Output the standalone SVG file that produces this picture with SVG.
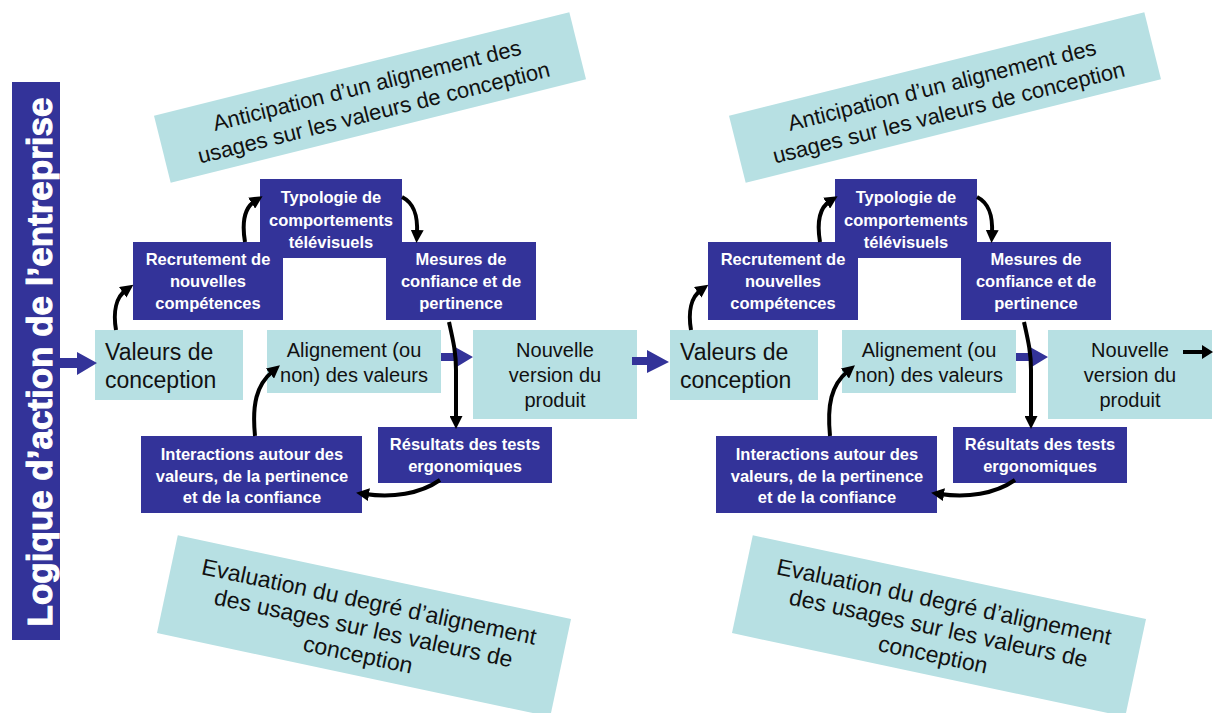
<svg xmlns="http://www.w3.org/2000/svg" width="1214" height="713" viewBox="0 0 1214 713">
<defs>
<style>
.dk{fill:#333399}
.lt{fill:#b7e0e3}
.wt{font-family:"Liberation Sans",Arial,sans-serif;font-weight:bold;font-size:16.5px;fill:#ffffff;text-anchor:middle}
.bt{font-family:"Liberation Sans",Arial,sans-serif;font-size:20px;fill:#111111;text-anchor:middle}
.vt{font-family:"Liberation Sans",Arial,sans-serif;font-size:23px;fill:#111111}
.tt{font-family:"Liberation Sans",Arial,sans-serif;font-size:22px;fill:#111111;text-anchor:middle}
.et{font-family:"Liberation Sans",Arial,sans-serif;font-size:23px;fill:#111111;text-anchor:middle}
.bar{font-family:"Liberation Sans",Arial,sans-serif;font-weight:bold;font-size:35px;fill:#ffffff;stroke:#ffffff;stroke-width:1;text-anchor:middle}
.cv{fill:none;stroke:#000;stroke-width:4;marker-end:url(#ah)}
.ba{fill:#333399}
</style>
<marker id="ah" markerUnits="userSpaceOnUse" markerWidth="13" markerHeight="13" viewBox="0 0 13 13" refX="4" refY="6.5" orient="auto">
<path d="M0,0 L13,6.5 L0,13 Z" fill="#000"/>
</marker>
</defs>
<rect x="0" y="0" width="1214" height="713" fill="#ffffff"/>

<g id="actor-bar">
<rect class="dk" x="12" y="82" width="48" height="558"/>
<text class="bar" transform="translate(52,362) rotate(-90)">Logique d’action de l’entreprise</text>
</g>

<!-- LEFT HALF -->
<g id="anticipation-1" transform="translate(370,97.5) rotate(-14)">
<rect class="lt" x="-214" y="-34.5" width="428" height="69"/>
<text class="tt" x="0" y="-5">Anticipation d’un alignement des</text>
<text class="tt" x="0" y="23">usages sur les valeurs de conception</text>
</g>
<g id="evaluation-1" transform="translate(364,626) rotate(12)">
<rect class="lt" x="-201" y="-50" width="402" height="100"/>
<text class="et" x="0" y="-17">Evaluation du degré d’alignement</text>
<text class="et" x="0" y="10">des usages sur les valeurs de</text>
<text class="et" x="0" y="37">conception</text>
</g>
<g id="typologie-1">
<rect class="dk" x="260" y="179" width="142" height="79"/>
<text class="wt" x="331" y="203">Typologie de</text>
<text class="wt" x="331" y="226">comportements</text>
<text class="wt" x="331" y="248">télévisuels</text>
</g>
<g id="recrutement-1">
<rect class="dk" x="133" y="242" width="150" height="78"/>
<text class="wt" x="208" y="265">Recrutement de</text>
<text class="wt" x="208" y="287">nouvelles</text>
<text class="wt" x="208" y="309">compétences</text>
</g>
<g id="mesures-1">
<rect class="dk" x="386" y="242" width="150" height="78"/>
<text class="wt" x="461" y="265">Mesures de</text>
<text class="wt" x="461" y="287">confiance et de</text>
<text class="wt" x="461" y="309">pertinence</text>
</g>
<g id="valeurs-1">
<rect class="lt" x="95" y="330" width="148" height="70"/>
<text class="vt" x="105" y="360">Valeurs de</text>
<text class="vt" x="105" y="388">conception</text>
</g>
<g id="alignement-1">
<rect class="lt" x="267" y="330" width="174" height="63"/>
<text class="bt" x="354" y="357">Alignement (ou</text>
<text class="bt" x="354" y="382">non) des valeurs</text>
</g>
<g id="nouvelle-1">
<rect class="lt" x="473" y="330" width="164" height="89"/>
<text class="bt" x="555" y="357">Nouvelle</text>
<text class="bt" x="555" y="382">version du</text>
<text class="bt" x="555" y="407">produit</text>
</g>
<g id="resultats-1">
<rect class="dk" x="378" y="427" width="174" height="56"/>
<text class="wt" x="465" y="450">Résultats des tests</text>
<text class="wt" x="465" y="472">ergonomiques</text>
</g>
<g id="interactions-1">
<rect class="dk" x="141" y="436" width="221" height="77"/>
<text class="wt" x="252" y="460">Interactions autour des</text>
<text class="wt" x="252" y="482">valeurs, de la pertinence</text>
<text class="wt" x="252" y="503">et de la confiance</text>
</g>

<!-- RIGHT HALF -->
<g id="anticipation-2" transform="translate(945,97.5) rotate(-14)">
<rect class="lt" x="-214" y="-34.5" width="428" height="69"/>
<text class="tt" x="0" y="-5">Anticipation d’un alignement des</text>
<text class="tt" x="0" y="23">usages sur les valeurs de conception</text>
</g>
<g id="evaluation-2" transform="translate(939,626) rotate(12)">
<rect class="lt" x="-201" y="-50" width="402" height="100"/>
<text class="et" x="0" y="-17">Evaluation du degré d’alignement</text>
<text class="et" x="0" y="10">des usages sur les valeurs de</text>
<text class="et" x="0" y="37">conception</text>
</g>
<g id="typologie-2">
<rect class="dk" x="835" y="179" width="142" height="79"/>
<text class="wt" x="906" y="203">Typologie de</text>
<text class="wt" x="906" y="226">comportements</text>
<text class="wt" x="906" y="248">télévisuels</text>
</g>
<g id="recrutement-2">
<rect class="dk" x="708" y="242" width="150" height="78"/>
<text class="wt" x="783" y="265">Recrutement de</text>
<text class="wt" x="783" y="287">nouvelles</text>
<text class="wt" x="783" y="309">compétences</text>
</g>
<g id="mesures-2">
<rect class="dk" x="961" y="242" width="150" height="78"/>
<text class="wt" x="1036" y="265">Mesures de</text>
<text class="wt" x="1036" y="287">confiance et de</text>
<text class="wt" x="1036" y="309">pertinence</text>
</g>
<g id="valeurs-2">
<rect class="lt" x="670" y="330" width="148" height="70"/>
<text class="vt" x="680" y="360">Valeurs de</text>
<text class="vt" x="680" y="388">conception</text>
</g>
<g id="alignement-2">
<rect class="lt" x="842" y="330" width="174" height="63"/>
<text class="bt" x="929" y="357">Alignement (ou</text>
<text class="bt" x="929" y="382">non) des valeurs</text>
</g>
<g id="nouvelle-2">
<rect class="lt" x="1048" y="330" width="164" height="89"/>
<text class="bt" x="1130" y="357">Nouvelle</text>
<text class="bt" x="1130" y="382">version du</text>
<text class="bt" x="1130" y="407">produit</text>
</g>
<g id="resultats-2">
<rect class="dk" x="953" y="427" width="174" height="56"/>
<text class="wt" x="1040" y="450">Résultats des tests</text>
<text class="wt" x="1040" y="472">ergonomiques</text>
</g>
<g id="interactions-2">
<rect class="dk" x="716" y="436" width="221" height="77"/>
<text class="wt" x="827" y="460">Interactions autour des</text>
<text class="wt" x="827" y="482">valeurs, de la pertinence</text>
<text class="wt" x="827" y="503">et de la confiance</text>
</g>

<g id="connectors">
<path class="ba" d="M60,358 L77,358 L77,352 L97,363 L77,375 L77,368 L60,368 Z"/>
<path class="ba" d="M441,353 L455,353 L455,347 L473,357 L455,368 L455,361 L441,361 Z"/>
<path class="ba" d="M632,357 L647,357 L647,350 L669,362 L647,373 L647,365 L632,365 Z"/>
<path class="ba" d="M1016,353 L1030,353 L1030,347 L1048,357 L1030,368 L1030,361 L1016,361 Z"/>
<path fill="#000" d="M1183,350 L1202,350 L1202,345 L1213,352 L1202,359 L1202,354 L1183,354 Z"/>
<g id="loop-1">
<path class="cv" d="M116,330 C113,312 116,297 126,290"/>
<path class="cv" d="M245,242 C242,224 244,208 255,201"/>
<path class="cv" d="M402,197 C414,203 418,215 417,234"/>
<path class="cv" d="M449,322 C453,340 456,352 456,370 L456,420"/>
<path class="cv" d="M440,480 C420,494 392,498 365,494"/>
<path class="cv" d="M255,436 C252,405 256,385 273,371"/>
</g>
<g id="loop-2" transform="translate(575,0)">
<path class="cv" d="M116,330 C113,312 116,297 126,290"/>
<path class="cv" d="M245,242 C242,224 244,208 255,201"/>
<path class="cv" d="M402,197 C414,203 418,215 417,234"/>
<path class="cv" d="M449,322 C453,340 456,352 456,370 L456,420"/>
<path class="cv" d="M440,480 C420,494 392,498 365,494"/>
<path class="cv" d="M255,436 C252,405 256,385 273,371"/>
</g>
</g>
</svg>
